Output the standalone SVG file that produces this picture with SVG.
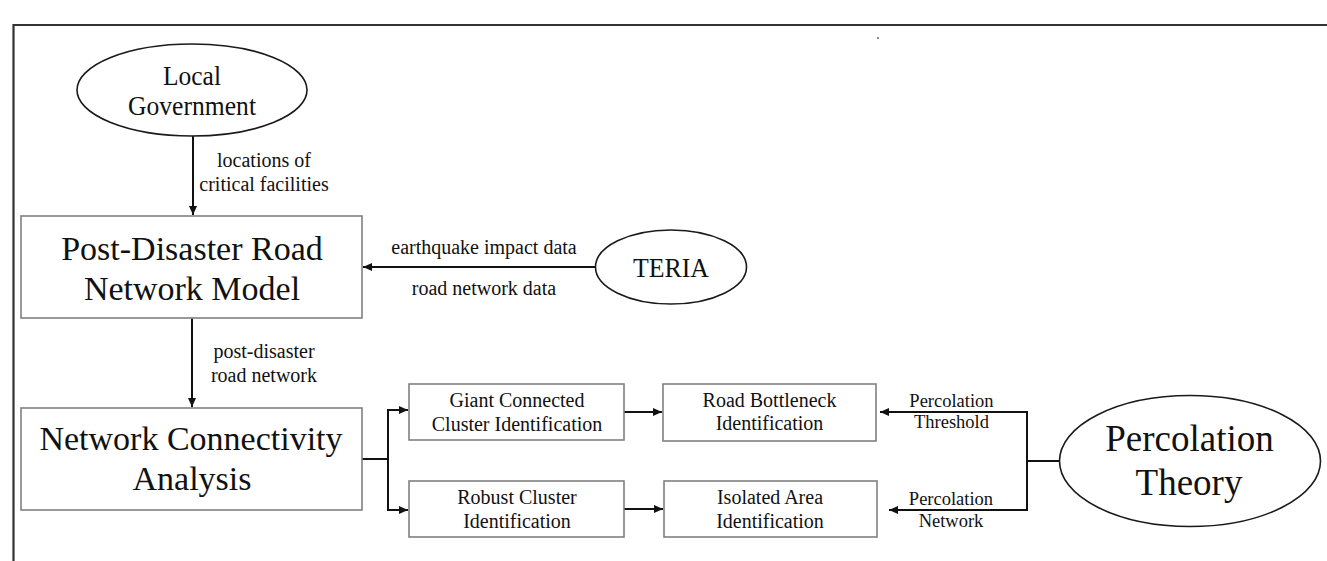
<svg xmlns="http://www.w3.org/2000/svg" width="1327" height="561" viewBox="0 0 1327 561">
<style>
text{font-family:"Liberation Serif","Times New Roman",serif;fill:#111;text-anchor:middle}
.box{fill:#fff;stroke:#808080;stroke-width:1.6}
.ell{fill:#fff;stroke:#1a1a1a;stroke-width:1.6}
.con{fill:none;stroke:#111;stroke-width:2}
.frame{fill:none;stroke:#333;stroke-width:2.2}
.big{font-size:34px}
.mid{font-size:27.5px}
.lbl{font-size:20px}
.sm{font-size:18.5px}
</style>
<defs>
<marker id="arr" markerUnits="userSpaceOnUse" markerWidth="9" markerHeight="8" refX="9" refY="4" orient="auto">
<path d="M0,0 L9,4 L0,8 z" fill="#111"/>
</marker>
</defs>
<rect width="1327" height="561" fill="#fff"/>
<path class="frame" d="M13.5,561 V25 H1327"/>
<circle cx="878" cy="38" r="0.9" fill="#555"/>

<g id="connectors">
<path class="con" d="M193,136 V215" marker-end="url(#arr)"/>
<path class="con" d="M596,267 H363" marker-end="url(#arr)"/>
<path class="con" d="M192,318 V407" marker-end="url(#arr)"/>
<path class="con" d="M362,459 H388"/>
<path class="con" d="M388,410 V510"/>
<path class="con" d="M387,410 H408" marker-end="url(#arr)"/>
<path class="con" d="M387,510 H408" marker-end="url(#arr)"/>
<path class="con" d="M624,412 H662" marker-end="url(#arr)"/>
<path class="con" d="M624,509 H663" marker-end="url(#arr)"/>
<path class="con" d="M1060,461 H1027"/>
<path class="con" d="M1027,411 V511"/>
<path class="con" d="M1028,412 H880" marker-end="url(#arr)"/>
<path class="con" d="M1028,510 H889" marker-end="url(#arr)"/>
<text class="lbl" x="264" y="167">locations of</text>
<text class="lbl" x="264" y="191">critical facilities</text>
<text class="lbl" x="484" y="254">earthquake impact data</text>
<text class="lbl" x="484" y="295">road network data</text>
<text class="lbl" x="264" y="358">post-disaster</text>
<text class="lbl" x="264" y="382">road network</text>
<text class="sm" x="951.5" y="407">Percolation</text>
<text class="sm" x="951.5" y="428">Threshold</text>
<text class="sm" x="951" y="505">Percolation</text>
<text class="sm" x="951" y="527">Network</text>
</g>

<g id="local-government">
<ellipse class="ell" cx="192" cy="90" rx="115" ry="46"/>
<text class="mid" x="192" y="85" textLength="58" lengthAdjust="spacingAndGlyphs">Local</text>
<text class="mid" x="192" y="115" textLength="128" lengthAdjust="spacingAndGlyphs">Government</text>
</g>

<g id="post-disaster-model">
<rect class="box" x="21" y="216" width="341" height="102"/>
<text class="big" x="192" y="260">Post-Disaster Road</text>
<text class="big" x="192" y="300">Network Model</text>
</g>

<g id="teria">
<ellipse class="ell" cx="671" cy="267" rx="75.5" ry="37"/>
<text class="mid" x="671" y="277" textLength="76" lengthAdjust="spacingAndGlyphs">TERIA</text>
</g>

<g id="network-connectivity">
<rect class="box" x="21" y="408" width="341" height="102"/>
<text class="big" x="191" y="450">Network Connectivity</text>
<text class="big" x="192" y="490">Analysis</text>
</g>

<g id="giant-cluster">
<rect class="box" x="409" y="384" width="215" height="56"/>
<text class="lbl" x="517" y="407">Giant Connected</text>
<text class="lbl" x="517" y="431">Cluster Identification</text>
</g>

<g id="robust-cluster">
<rect class="box" x="409" y="481" width="215" height="56"/>
<text class="lbl" x="517" y="504">Robust Cluster</text>
<text class="lbl" x="517" y="528">Identification</text>
</g>

<g id="road-bottleneck">
<rect class="box" x="663" y="384" width="213" height="57"/>
<text class="lbl" x="769.5" y="407">Road Bottleneck</text>
<text class="lbl" x="769.5" y="430">Identification</text>
</g>

<g id="isolated-area">
<rect class="box" x="664" y="481" width="213" height="56"/>
<text class="lbl" x="770" y="504">Isolated Area</text>
<text class="lbl" x="770" y="528">Identification</text>
</g>

<g id="percolation-theory">
<ellipse class="ell" cx="1190" cy="461" rx="130.5" ry="65.5"/>
<text x="1189.5" y="451" style="font-size:37px">Percolation</text>
<text x="1189" y="495" style="font-size:37px">Theory</text>
</g>
</svg>
